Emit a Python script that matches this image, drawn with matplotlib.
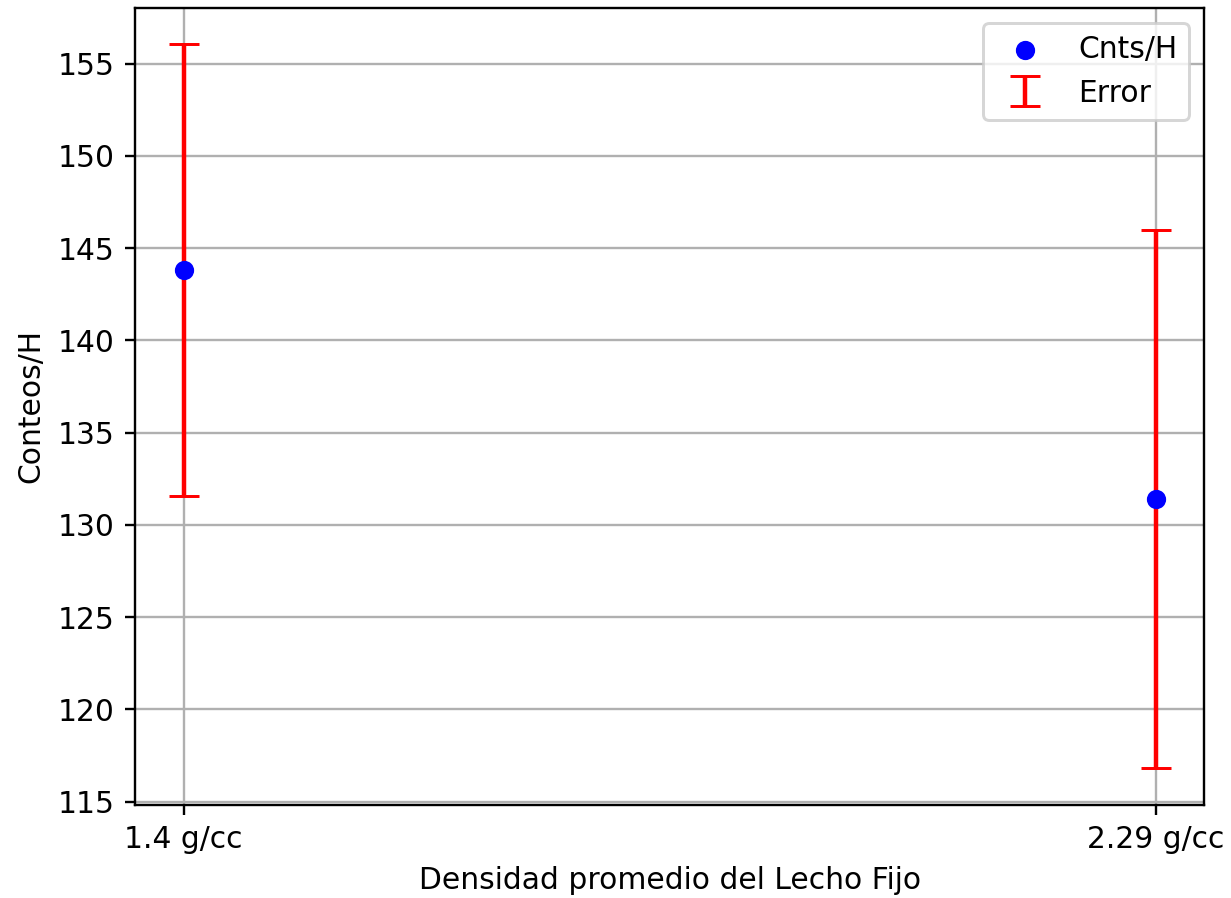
import matplotlib
matplotlib.use("Agg")
import matplotlib.pyplot as plt

# Mean bed density categories and measured count rates
densidades = ["1.4 g/cc", "2.29 g/cc"]
conteos = [143.8, 131.4]
errores = [12.25, 14.6]

DPI = 214
fig = plt.figure(figsize=(1231 / DPI, 898 / DPI), dpi=DPI)
ax = fig.add_axes([0.1097, 0.104, 0.8686, 0.887])

x = list(range(len(densidades)))
ax.scatter(x, conteos, color="blue", s=30, label="Cnts/H", zorder=3)
ax.errorbar(x, conteos, yerr=errores, fmt="none", ecolor="red",
            capsize=5, label="Error")

ax.set_xticks(x)
ax.set_xticklabels(densidades)
ax.set_xlabel("Densidad promedio del Lecho Fijo")
ax.set_ylabel("Conteos/H")
ax.grid(True)
ax.legend(loc="upper right")

fig.savefig("out.png", dpi=DPI)
